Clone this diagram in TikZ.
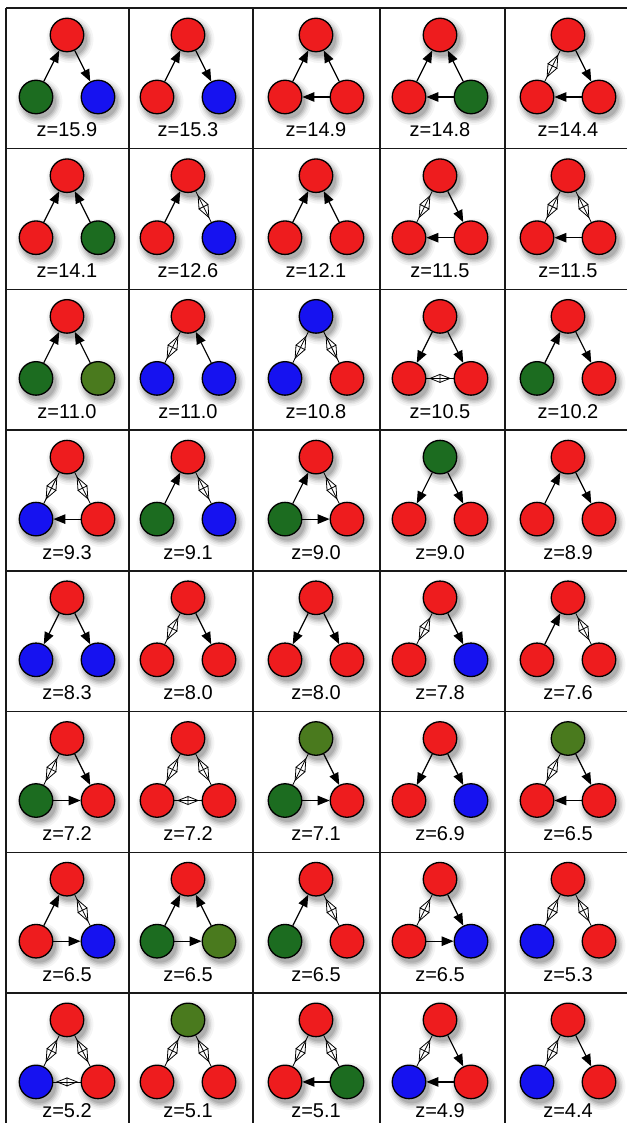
\documentclass[tikz,border=0pt]{standalone}
\usepackage{fontspec}
\setmainfont{Liberation Sans}
\usetikzlibrary{arrows.meta,decorations.markings}
\definecolor{nred}{RGB}{238,28,30}
\definecolor{nblue}{RGB}{22,18,240}
\definecolor{ngreen}{RGB}{28,108,32}
\definecolor{nolive}{RGB}{74,122,30}
\tikzset{
  nd/.style={circle, draw=black, line width=1.3pt, minimum size=33.5pt, inner sep=0pt},
  lbl/.style={font=\fontsize{20}{20}\selectfont, anchor=base, inner sep=0pt},
  solidarr/.style={line width=1.2pt, -{Triangle[length=12pt,width=9.5pt]}},
  mutarr/.style 2 args={line width=0.8pt,
    decoration={markings, mark=at position 0.5 with {
      \draw[line width=0.8pt, line join=miter] (-#1,0pt) -- (0pt,#2) -- (0pt,-#2) -- cycle
                                               (#1,0pt) -- (0pt,#2) -- (0pt,-#2) -- cycle;}},
    postaction=decorate},
  gridline/.style={line width=1.4pt, draw=black!90}
}
\newcommand\edS[2]{\draw[solidarr] (#1\cid) -- (#2\cid);}
\newcommand\edM[2]{\draw[mutarr={12pt}{5pt}] (#1\cid) -- (#2\cid);}
\newcommand\edH[2]{\draw[mutarr={10pt}{4pt}] (#1\cid) -- (#2\cid);}
\def\lbly{102}
\newcommand\motif[8]{%
  \begin{scope}[shift={(#1,#2)}]
    \foreach \px/\py in {0/0,-31/62,31/62}{
      \foreach \k/\o in {7/0.04,5/0.05,3.5/0.07,2/0.09,0.5/0.1}{
        \fill[black,opacity=\o,shift={(\px,\py)}] (3,4.5) circle[radius={16.5pt+\k pt}];
      }
    }
    \node[nd, fill=#4] (T#3) at (0,0) {};
    \node[nd, fill=#5] (L#3) at (-31,62) {};
    \node[nd, fill=#6] (R#3) at (31,62) {};
    \node[lbl] (Z#3) at (0,\lbly) {z=#7};
    \def\cid{#3}#8
  \end{scope}}
\begin{document}
\begin{tikzpicture}[x=1pt,y=-1pt]
\fill[white] (0,0) rectangle (627,1123);
\useasboundingbox (0,0) rectangle (627,1123);
% grid
\foreach \gx in {6,129,253,380,505} \draw[gridline] (\gx,8) -- (\gx,1123);
\foreach \gy in {8,148.7,289.4,430.1,570.8,711.5,852.2,992.9} \draw[gridline] (6,\gy) -- (627,\gy);
% row 1
\motif{67}{35}{a1}{nred}{ngreen}{nblue}{15.9}{\edS{L}{T}\edS{T}{R}}
\motif{188}{35}{b1}{nred}{nred}{nblue}{15.3}{\edS{L}{T}\edS{T}{R}}
\motif{316}{35}{c1}{nred}{nred}{nred}{14.9}{\edS{L}{T}\edS{R}{T}\edS{R}{L}}
\motif{440}{35}{d1}{nred}{nred}{ngreen}{14.8}{\edS{L}{T}\edS{R}{T}\edS{R}{L}}
\motif{568}{35}{e1}{nred}{nred}{nred}{14.4}{\edM{T}{L}\edS{T}{R}\edS{R}{L}}
% row 2
\motif{67}{175.7}{a2}{nred}{nred}{ngreen}{14.1}{\edS{L}{T}\edS{R}{T}}
\motif{188}{175.7}{b2}{nred}{nred}{nblue}{12.6}{\edS{L}{T}\edM{T}{R}}
\motif{316}{175.7}{c2}{nred}{nred}{nred}{12.1}{\edS{L}{T}\edS{R}{T}}
\motif{440}{175.7}{d2}{nred}{nred}{nred}{11.5}{\edM{T}{L}\edS{T}{R}\edS{R}{L}}
\motif{568}{175.7}{e2}{nred}{nred}{nred}{11.5}{\edM{T}{L}\edM{T}{R}\edS{R}{L}}
% row 3
\motif{67}{316.4}{a3}{nred}{ngreen}{nolive}{11.0}{\edS{L}{T}\edS{R}{T}}
\motif{188}{316.4}{b3}{nred}{nblue}{nblue}{11.0}{\edM{T}{L}\edS{R}{T}}
\motif{316}{316.4}{c3}{nblue}{nblue}{nred}{10.8}{\edM{T}{L}\edM{T}{R}}
\motif{440}{316.4}{d3}{nred}{nred}{nred}{10.5}{\edS{T}{L}\edS{T}{R}\edH{L}{R}}
\motif{568}{316.4}{e3}{nred}{ngreen}{nred}{10.2}{\edS{L}{T}\edS{T}{R}}
% row 4
\motif{67}{457.1}{a4}{nred}{nblue}{nred}{9.3}{\edM{T}{L}\edM{T}{R}\edS{R}{L}}
\motif{188}{457.1}{b4}{nred}{ngreen}{nblue}{9.1}{\edS{L}{T}\edM{T}{R}}
\motif{316}{457.1}{c4}{nred}{ngreen}{nred}{9.0}{\edS{L}{T}\edM{T}{R}\edS{L}{R}}
\motif{440}{457.1}{d4}{ngreen}{nred}{nred}{9.0}{\edS{T}{L}\edS{T}{R}}
\motif{568}{457.1}{e4}{nred}{nred}{nred}{8.9}{\edS{L}{T}\edS{T}{R}}
% row 5
\motif{67}{597.8}{a5}{nred}{nblue}{nblue}{8.3}{\edS{T}{L}\edS{T}{R}}
\motif{188}{597.8}{b5}{nred}{nred}{nred}{8.0}{\edM{T}{L}\edS{T}{R}}
\motif{316}{597.8}{c5}{nred}{nred}{nred}{8.0}{\edS{T}{L}\edS{T}{R}}
\motif{440}{597.8}{d5}{nred}{nred}{nblue}{7.8}{\edM{T}{L}\edS{T}{R}}
\motif{568}{597.8}{e5}{nred}{nred}{nred}{7.6}{\edS{L}{T}\edM{T}{R}}
% row 6
\motif{67}{738.5}{a6}{nred}{ngreen}{nred}{7.2}{\edM{T}{L}\edS{T}{R}\edS{L}{R}}
\motif{188}{738.5}{b6}{nred}{nred}{nred}{7.2}{\edM{T}{L}\edM{T}{R}\edH{L}{R}}
\motif{316}{738.5}{c6}{nolive}{ngreen}{nred}{7.1}{\edM{T}{L}\edS{T}{R}\edS{L}{R}}
\motif{440}{738.5}{d6}{nred}{nred}{nblue}{6.9}{\edS{T}{L}\edS{T}{R}}
\motif{568}{738.5}{e6}{nolive}{nred}{nred}{6.5}{\edM{T}{L}\edS{T}{R}\edS{R}{L}}
% row 7
\motif{67}{879.2}{a7}{nred}{nred}{nblue}{6.5}{\edS{L}{T}\edM{T}{R}\edS{L}{R}}
\motif{188}{879.2}{b7}{nred}{ngreen}{nolive}{6.5}{\edS{L}{T}\edS{R}{T}\edS{L}{R}}
\motif{316}{879.2}{c7}{nred}{ngreen}{nred}{6.5}{\edS{L}{T}\edM{T}{R}}
\motif{440}{879.2}{d7}{nred}{nred}{nblue}{6.5}{\edM{T}{L}\edS{T}{R}\edS{L}{R}}
\motif{568}{879.2}{e7}{nred}{nblue}{nred}{5.3}{\edM{T}{L}\edM{T}{R}}
% row 8
\def\lbly{98}
\motif{67}{1019.9}{a8}{nred}{nblue}{nred}{5.2}{\edM{T}{L}\edM{T}{R}\edH{L}{R}}
\motif{188}{1019.9}{b8}{nolive}{nred}{nred}{5.1}{\edM{T}{L}\edM{T}{R}}
\motif{316}{1019.9}{c8}{nred}{nred}{ngreen}{5.1}{\edM{T}{L}\edM{T}{R}\edS{R}{L}}
\motif{440}{1019.9}{d8}{nred}{nblue}{nred}{4.9}{\edM{T}{L}\edS{T}{R}\edS{R}{L}}
\motif{568}{1019.9}{e8}{nred}{nblue}{nred}{4.4}{\edM{T}{L}\edS{T}{R}}
\end{tikzpicture}
\end{document}
